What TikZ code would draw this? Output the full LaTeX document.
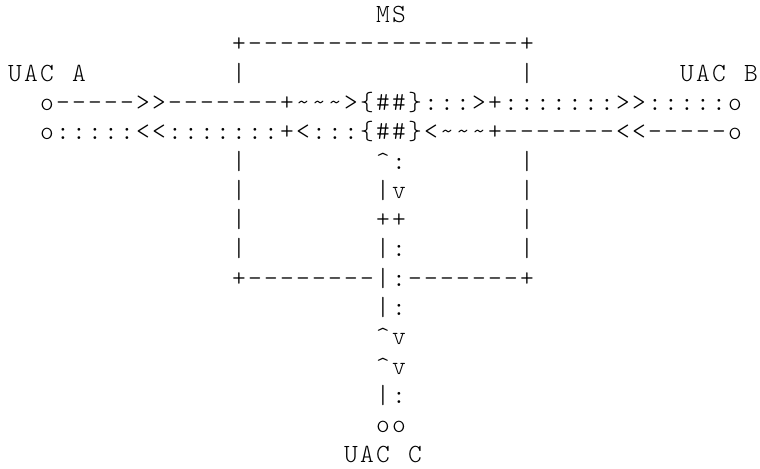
\documentclass[tikz,border=0pt]{standalone}
\usepackage{fontspec}
\newfontfamily\asciifont{lmmonolt10-regular.otf}[LetterSpace=8.57]
\tikzset{
  x=16pt, y=-29.3pt,
  ascii/.style={anchor=base west, inner sep=0pt, outer sep=0pt, xshift=1.1pt,
    font=\asciifont\fontsize{26.2pt}{29.3pt}\selectfont}
}
\begin{document}
\begin{tikzpicture}
    \fill[white] (-0.4375,-0.77) rectangle (47.0625,15.203);
    \useasboundingbox (-0.4375,-0.77) rectangle (47.0625,15.203);

    % Caja del MS
    \node[ascii] (ms) at (23,0) {MS};
    \node[ascii] (topedge) at (14,1) {+-----------------+};
    \node[ascii] (leftbar) at (14,2) {|};
    \node[ascii] (rightbar) at (32,2) {|};

    % Etiquetas de los extremos
    \node[ascii] (uaca) at (0,2) {UAC};
    \node[ascii] (uacaletter) at (4,2) {A};
    \node[ascii] (uacb) at (42,2) {UAC};
    \node[ascii] (uacbletter) at (46,2) {B};

    % Flujos entre A y B
    \node[ascii] (flowab) at (2,3) {o----->>-------+\textasciitilde\textasciitilde\textasciitilde>\{\#\#\}:::>+:::::::>>:::::o};
    \node[ascii] (flowba) at (2,4) {o:::::<<:::::::+<:::\{\#\#\}<\textasciitilde\textasciitilde\textasciitilde+-------<<-----o};

    % Lados de la caja y flujo hacia C
    \node[ascii] (lefta) at (14,5) {|};
    \node[ascii] (midA) at (23,5) {\textasciicircum:};
    \node[ascii] (righta) at (32,5) {|};
    \node[ascii] (leftb) at (14,6) {|};
    \node[ascii] (midB) at (23,6) {|v};
    \node[ascii] (rightb) at (32,6) {|};
    \node[ascii] (leftc) at (14,7) {|};
    \node[ascii] (midC) at (23,7) {++};
    \node[ascii] (rightc) at (32,7) {|};
    \node[ascii] (leftd) at (14,8) {|};
    \node[ascii] (midD) at (23,8) {|:};
    \node[ascii] (rightd) at (32,8) {|};
    \node[ascii] (bottomedge) at (14,9) {+--------|:-------+};

    % Tramo hasta UAC C
    \node[ascii] (downA) at (23,10) {|:};
    \node[ascii] (downB) at (23,11) {\textasciicircum v};
    \node[ascii] (downC) at (23,12) {\textasciicircum v};
    \node[ascii] (downD) at (23,13) {|:};
    \node[ascii] (endc) at (23,14) {oo};
    \node[ascii] (uacc) at (21,15) {UAC};
    \node[ascii] (uaccletter) at (25,15) {C};
\end{tikzpicture}
\end{document}
